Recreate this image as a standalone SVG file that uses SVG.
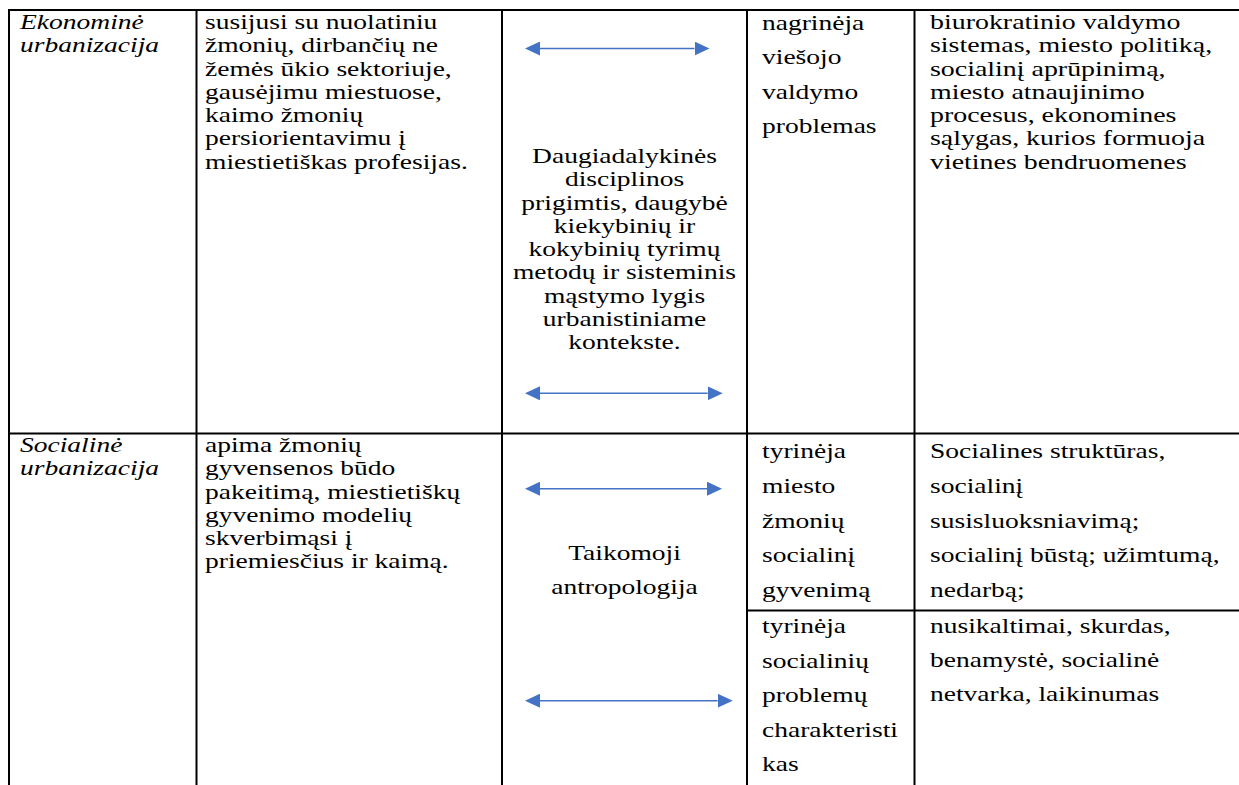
<svg xmlns="http://www.w3.org/2000/svg" width="1239" height="785" viewBox="0 0 1239 785">
<style>
  text { font-family: 'Liberation Serif', 'Times New Roman', serif; font-size: 21px; fill: #000; }
  .i { font-style: italic; }
  .c { text-anchor: middle; }
  .grid line { stroke: #000; stroke-width: 2; }
  .arr { stroke: #4472C4; stroke-width: 1.5; fill: none; marker-start: url(#ah); marker-end: url(#ah); }
</style>
<defs>
  <marker id="ah" viewBox="0 0 15 14" refX="0" refY="7" markerWidth="15" markerHeight="14" markerUnits="userSpaceOnUse" orient="auto-start-reverse">
    <path d="M0,0 L15,7 L0,14 z" fill="#4472C4"/>
  </marker>
</defs>
<rect width="1239" height="785" fill="#fff"/>

<g id="grid" class="grid">
  <line x1="8" y1="10" x2="1239" y2="10"/>
  <line x1="9" y1="9" x2="9" y2="785"/>
  <line x1="196.5" y1="9" x2="196.5" y2="785"/>
  <line x1="502" y1="9" x2="502" y2="785"/>
  <line x1="747" y1="9" x2="747" y2="785"/>
  <line x1="914.5" y1="9" x2="914.5" y2="785"/>
  <line x1="8" y1="433.5" x2="1239" y2="433.5"/>
  <line x1="747" y1="610.5" x2="1239" y2="610.5"/>
</g>

<g id="r1c1" transform="translate(20,0) scale(1.31,1)">
  <text class="i"><tspan x="0" y="29">Ekonominė</tspan><tspan x="0" y="52.3">urbanizacija</tspan></text>
</g>
<g id="r1c2" transform="translate(205,0) scale(1.31,1)">
  <text><tspan x="0" y="29">susijusi su nuolatiniu</tspan><tspan x="0" y="52.3">žmonių, dirbančių ne</tspan><tspan x="0" y="75.6">žemės ūkio sektoriuje,</tspan><tspan x="0" y="98.9">gausėjimu miestuose,</tspan><tspan x="0" y="122.2">kaimo žmonių</tspan><tspan x="0" y="145.5">persiorientavimu į</tspan><tspan x="0" y="168.8">miestietiškas profesijas.</tspan></text>
</g>
<g id="r1c3" transform="translate(624.5,0) scale(1.31,1)">
  <text class="c"><tspan x="0" y="163">Daugiadalykinės</tspan><tspan x="0" y="186.3">disciplinos</tspan><tspan x="0" y="209.6">prigimtis, daugybė</tspan><tspan x="0" y="232.9">kiekybinių ir</tspan><tspan x="0" y="256.2">kokybinių tyrimų</tspan><tspan x="0" y="279.5">metodų ir sisteminis</tspan><tspan x="0" y="302.8">mąstymo lygis</tspan><tspan x="0" y="326.1">urbanistiniame</tspan><tspan x="0" y="349.4">kontekste.</tspan></text>
</g>
<g id="r1c4" transform="translate(762,0) scale(1.31,1)">
  <text><tspan x="0" y="30">nagrinėja</tspan><tspan x="0" y="64.5">viešojo</tspan><tspan x="0" y="99">valdymo</tspan><tspan x="0" y="133.5">problemas</tspan></text>
</g>
<g id="r1c5" transform="translate(930,0) scale(1.33,1)">
  <text><tspan x="0" y="29">biurokratinio valdymo</tspan><tspan x="0" y="52.3">sistemas, miesto politiką,</tspan><tspan x="0" y="75.6">socialinį aprūpinimą,</tspan><tspan x="0" y="98.9">miesto atnaujinimo</tspan><tspan x="0" y="122.2">procesus, ekonomines</tspan><tspan x="0" y="145.5">sąlygas, kurios formuoja</tspan><tspan x="0" y="168.8">vietines bendruomenes</tspan></text>
</g>

<g id="r2c1" transform="translate(20,0) scale(1.31,1)">
  <text class="i"><tspan x="0" y="452">Socialinė</tspan><tspan x="0" y="475.3">urbanizacija</tspan></text>
</g>
<g id="r2c2" transform="translate(205,0) scale(1.31,1)">
  <text><tspan x="0" y="452">apima žmonių</tspan><tspan x="0" y="475.3">gyvensenos būdo</tspan><tspan x="0" y="498.6">pakeitimą, miestietiškų</tspan><tspan x="0" y="521.9">gyvenimo modelių</tspan><tspan x="0" y="545.2">skverbimąsi į</tspan><tspan x="0" y="568.5">priemiesčius ir kaimą.</tspan></text>
</g>
<g id="r2c3" transform="translate(624.5,0) scale(1.31,1)">
  <text class="c"><tspan x="0" y="560">Taikomoji</tspan><tspan x="0" y="594">antropologija</tspan></text>
</g>
<g id="r2c4a" transform="translate(762,0) scale(1.31,1)">
  <text><tspan x="0" y="458">tyrinėja</tspan><tspan x="0" y="492.8">miesto</tspan><tspan x="0" y="527.6">žmonių</tspan><tspan x="0" y="562.4">socialinį</tspan><tspan x="0" y="597.2">gyvenimą</tspan></text>
</g>
<g id="r2c5a" transform="translate(930,0) scale(1.31,1)">
  <text><tspan x="0" y="458">Socialines struktūras,</tspan><tspan x="0" y="492.8">socialinį</tspan><tspan x="0" y="527.6">susisluoksniavimą;</tspan><tspan x="0" y="562.4">socialinį būstą; užimtumą,</tspan><tspan x="0" y="597.2">nedarbą;</tspan></text>
</g>
<g id="r2c4b" transform="translate(762,0) scale(1.31,1)">
  <text><tspan x="0" y="633">tyrinėja</tspan><tspan x="0" y="667.6">socialinių</tspan><tspan x="0" y="702.2">problemų</tspan><tspan x="0" y="736.8">charakteristi</tspan><tspan x="0" y="771.4">kas</tspan></text>
</g>
<g id="r2c5b" transform="translate(930,0) scale(1.31,1)">
  <text><tspan x="0" y="633">nusikaltimai, skurdas,</tspan><tspan x="0" y="667">benamystė, socialinė</tspan><tspan x="0" y="701">netvarka, laikinumas</tspan></text>
</g>

<g id="connectors">
  <line class="arr" x1="540" y1="48.5" x2="694.5" y2="48.5"/>
  <line class="arr" x1="540" y1="393.3" x2="707.7" y2="393.3"/>
  <line class="arr" x1="540" y1="488.7" x2="707" y2="488.7"/>
  <line class="arr" x1="540" y1="700.7" x2="717.7" y2="700.7"/>
</g>
</svg>
